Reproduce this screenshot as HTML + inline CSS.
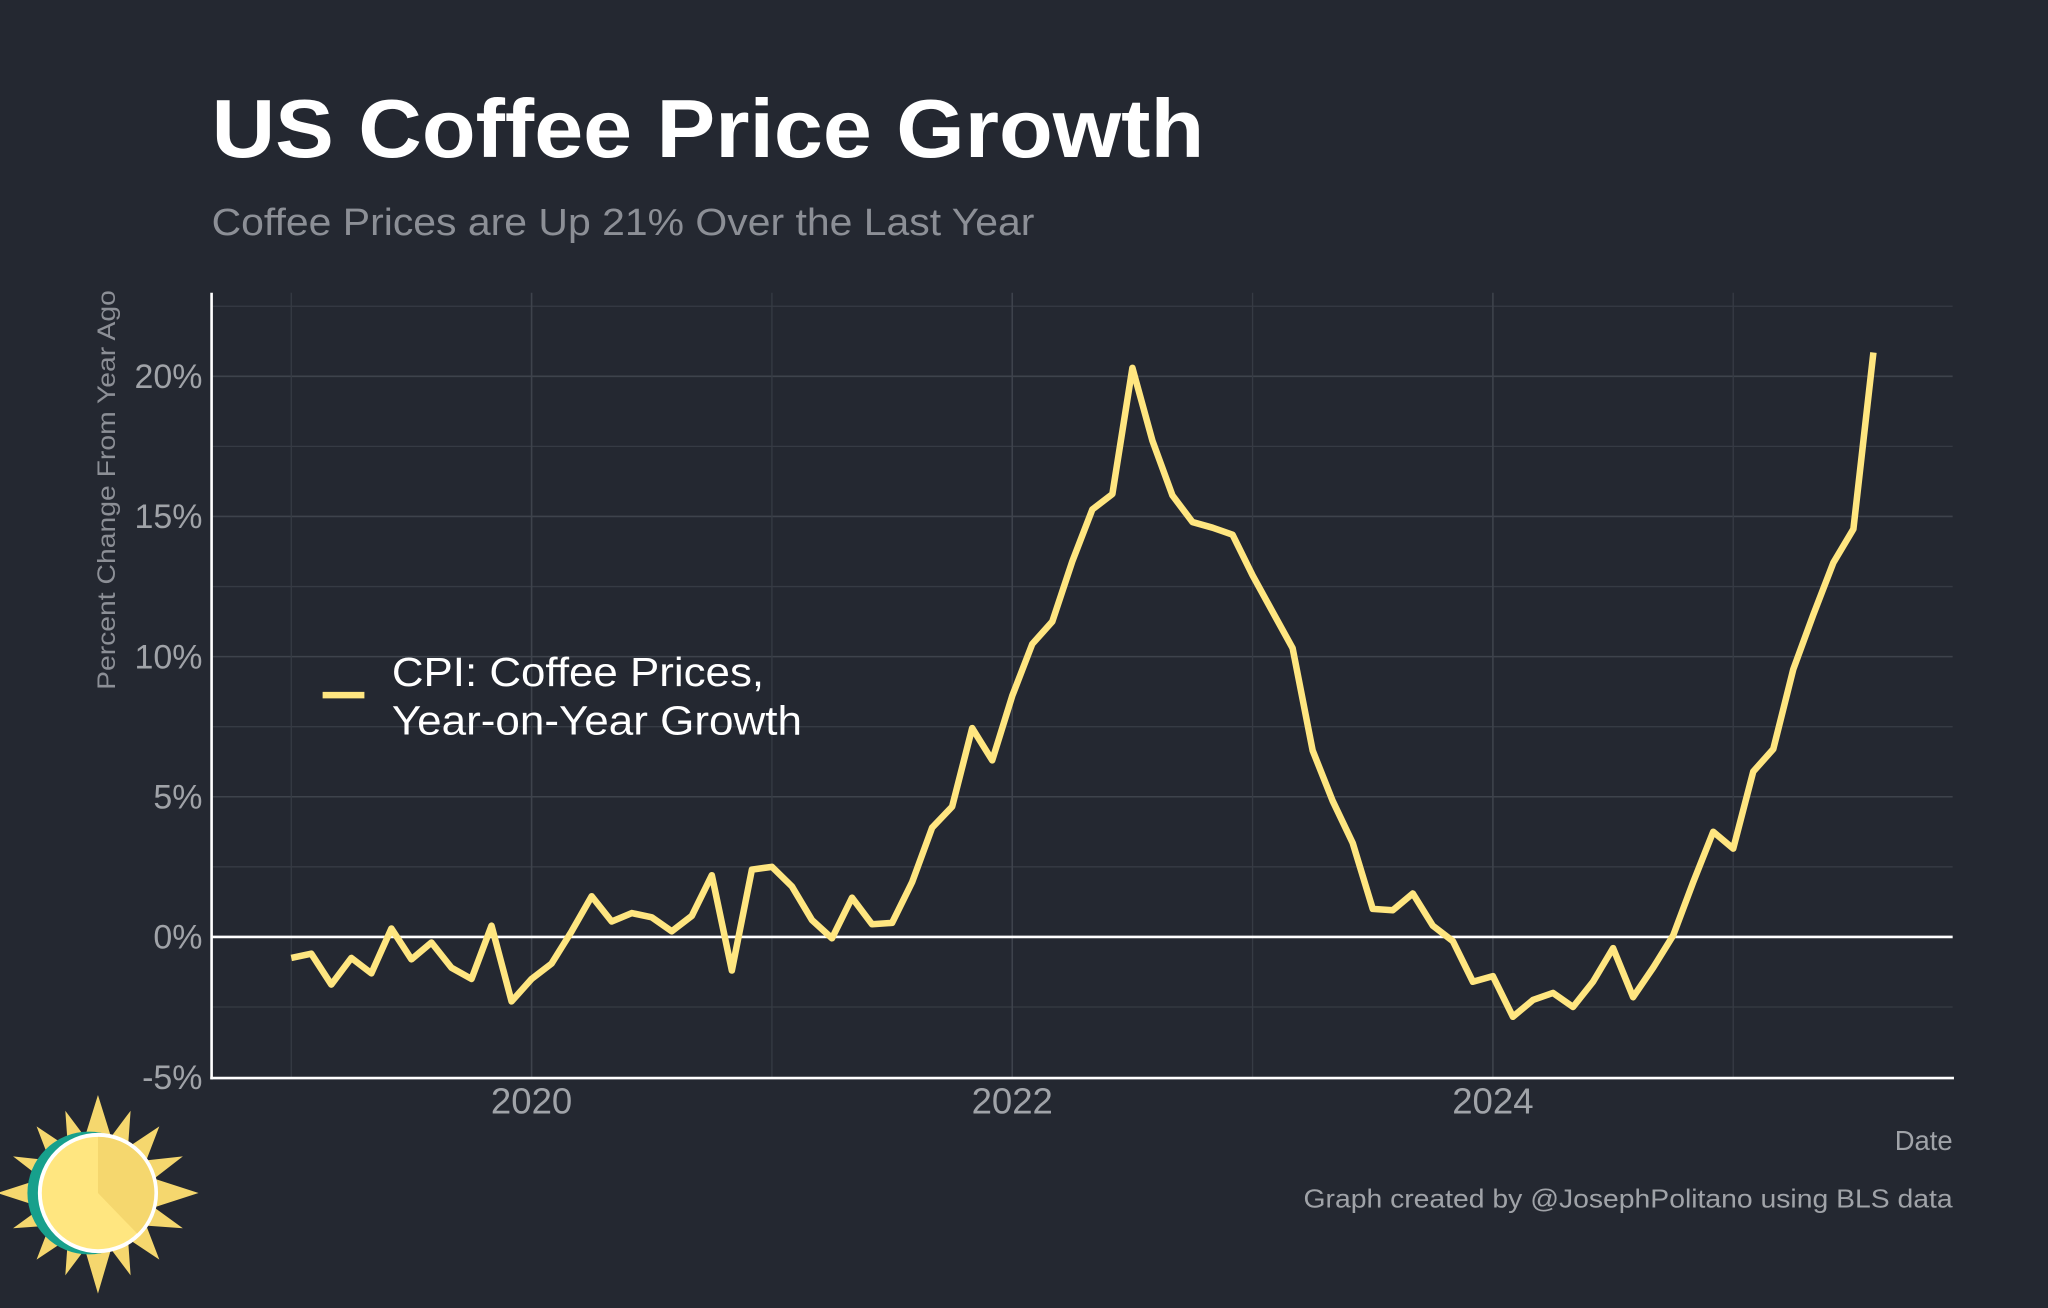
<!DOCTYPE html>
<html><head><meta charset="utf-8">
<style>
html,body{margin:0;padding:0;background:#242831;}
svg{display:block;}
text{font-family:"Liberation Sans",Arial,sans-serif;}
</style></head>
<body>
<svg id="chart" width="2048" height="1308" viewBox="0 0 1568 1001" preserveAspectRatio="none" xmlns="http://www.w3.org/2000/svg">
<rect width="1568" height="1001" fill="#242831"/>
<text x="162" y="120" font-size="63" font-weight="bold" fill="#ffffff" textLength="760" lengthAdjust="spacingAndGlyphs">US Coffee Price Growth</text>
<text x="162" y="180" font-size="29" fill="#8c8f96" textLength="630" lengthAdjust="spacingAndGlyphs">Coffee Prices are Up 21% Over the Last Year</text>
<g id="grid"></g>
<g id="yticks"></g>
<g id="xticks"></g>
<text transform="translate(88,375) rotate(-90)" text-anchor="middle" font-size="19" fill="#8c8f96" textLength="306" lengthAdjust="spacingAndGlyphs">Percent Change From Year Ago</text>
<text x="1495" y="880" text-anchor="end" font-size="21" fill="#a0a3a8">Date</text>
<text x="998" y="924" font-size="20" fill="#a0a3a8" textLength="497" lengthAdjust="spacingAndGlyphs">Graph created by @JosephPolitano using BLS data</text>
<g id="series"></g>
<line x1="162" y1="224" x2="162" y2="826" stroke="#ffffff" stroke-width="2"/>
<line x1="161" y1="825" x2="1496" y2="825" stroke="#ffffff" stroke-width="2"/>
<g>
<line x1="247" y1="532" x2="279" y2="532" stroke="#ffe680" stroke-width="5"/>
<text x="300" y="525" font-size="31" fill="#ffffff" textLength="285" lengthAdjust="spacingAndGlyphs">CPI: Coffee Prices,</text>
<text x="300" y="562" font-size="31" fill="#ffffff" textLength="314" lengthAdjust="spacingAndGlyphs">Year-on-Year Growth</text>
</g>
<g>
<polygon points="75,838 85,870 100,850 98,878 122,862 112,888 140,885 118,902 152,913 118,924 140,940 112,938 122,964 98,948 100,976 85,956 75,990 65,956 50,976 52,948 28,964 38,938 10,940 32,924 -2,913 32,902 10,885 38,888 28,862 52,878 50,850 65,870" fill="#f5d76e"/>
<circle cx="68" cy="913" r="47" fill="#17a08c"/>
<circle cx="75" cy="913" r="46" fill="#ffffff"/>
<circle cx="75" cy="913" r="43" fill="#ffe680"/>
<path d="M75,913 L75,870 A43,43 0 0 1 105,944 Z" fill="#f5d76e"/>
</g>
</svg>
<script>
const startYear = 2019;
const values = [-0.75,-0.6,-1.7,-0.75,-1.3,0.3,-0.8,-0.2,-1.1,-1.5,0.4,-2.3,
-1.5,-0.95,0.2,1.45,0.55,0.85,0.7,0.2,0.75,2.2,-1.2,2.4,
2.5,1.8,0.6,-0.05,1.4,0.45,0.5,1.95,3.9,4.65,7.45,6.3,
8.6,10.45,11.25,13.4,15.25,15.8,20.3,17.7,15.75,14.8,14.6,14.35,
12.9,11.6,10.3,6.65,4.85,3.35,1.0,0.95,1.55,0.4,-0.15,-1.6,
-1.4,-2.85,-2.25,-2.0,-2.5,-1.6,-0.4,-2.15,-1.1,0.05,1.95,3.75,
3.15,5.9,6.7,9.55,11.5,13.35,14.55,20.85];
const yTickValues = [-5,0,5,10,15,20];
const yTickLabels = ["-5%","0%","5%","10%","15%","20%"];
const yMinorValues = [-2.5,2.5,7.5,12.5,17.5,22.5];
const xTickYears = [2020,2022,2024];
const xMinorYears = [2019,2021,2023,2025];

const NS = "http://www.w3.org/2000/svg";
function yPos(v){ return 717 - v*21.45; }
function xPos(monthsSince){ return 223 + monthsSince*(184/12); }
function xYear(y){ return xPos((y-startYear)*12); }
function mk(tag, attrs, parent){ const e=document.createElementNS(NS,tag); for(const k in attrs) e.setAttribute(k,attrs[k]); parent.appendChild(e); return e; }

const grid = document.getElementById('grid');
yMinorValues.forEach(v=>{
  const l = mk('line',{x1:162,x2:1495,y1:yPos(v),y2:yPos(v),stroke:'#363b44','stroke-width':1},grid);
  
  
});
yTickValues.forEach(v=>{
  if(v===-5) return;
  const l = mk('line',{x1:162,x2:1495,y1:yPos(v),y2:yPos(v),stroke:'#3e434c','stroke-width':1.2},grid);
  
  
});
xMinorYears.forEach(y=>{
  const l = mk('line',{x1:xYear(y),x2:xYear(y),y1:224,y2:825,stroke:'#363b44','stroke-width':1},grid);
  
  
});
xTickYears.forEach(y=>{
  const l = mk('line',{x1:xYear(y),x2:xYear(y),y1:224,y2:825,stroke:'#3e434c','stroke-width':1.2},grid);
  
  
});
const zl = mk('line',{x1:162,x2:1495,y1:yPos(0),y2:yPos(0),stroke:'#ffffff','stroke-width':2},grid);



const yt = document.getElementById('yticks');
yTickValues.forEach((v,i)=>{
  const t = mk('text',{x:155,y:yPos(v)+9,'text-anchor':'end','font-size':26,fill:'#a0a3a8'},yt);
  t.textContent = yTickLabels[i];
  
  
});
const xt = document.getElementById('xticks');
xTickYears.forEach(y=>{
  const t = mk('text',{x:xYear(y),y:852,'text-anchor':'middle','font-size':28,fill:'#a0a3a8'},xt);
  t.textContent = String(y);
  
  
});

const series = document.getElementById('series');
const d = values.map((v,i)=>(i?'L':'M')+xPos(i).toFixed(2)+','+yPos(v).toFixed(2)).join(' ');
const p = mk('path',{d:d,fill:'none',stroke:'#ffe680','stroke-width':5,'stroke-linejoin':'round','stroke-linecap':'butt'},series);


</script>
</body></html>
